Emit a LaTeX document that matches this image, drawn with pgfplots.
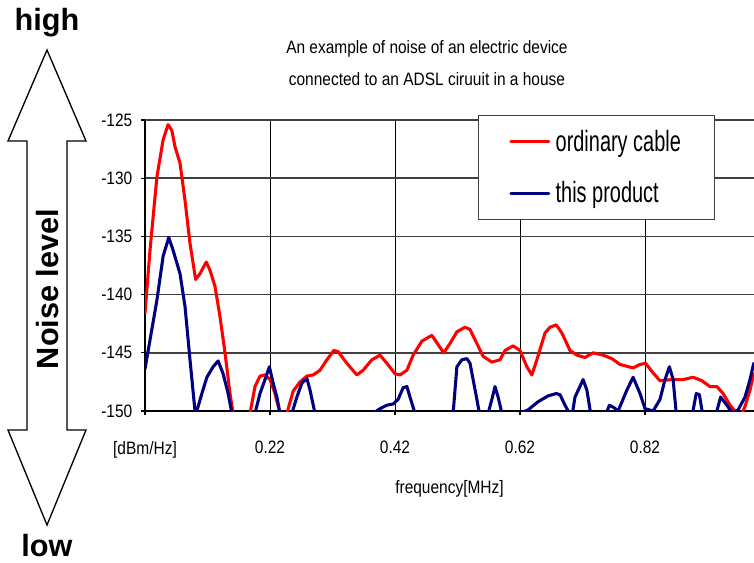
\documentclass[border=0pt]{standalone}
\usepackage{fontspec}
\setmainfont{Liberation Sans}
\newfontfamily\narrowfont[FakeStretch=0.86]{Liberation Sans}
\newfontfamily\legfont[FakeStretch=0.68]{Liberation Sans}
\usepackage{pgfplots}
\pgfplotsset{compat=1.18}
\definecolor{navyline}{RGB}{0,0,128}
\begin{document}
\begin{tikzpicture}
\path[use as bounding box] (0,0) rectangle (565.5pt,421.5pt);
\begin{scope}[x=0.75pt,y=-0.75pt,yshift=421.5pt]
\draw[line width=1pt,line join=miter,fill=white]
  (47,50) -- (86,141) -- (67,141) -- (67,430) -- (86,430) -- (47,525)
  -- (8,430) -- (27,430) -- (27,141) -- (8,141) -- cycle;
\node[anchor=base,inner sep=0pt,font=\bfseries\fontsize{23}{23}\selectfont] at (47,31) {high};
\node[anchor=base,inner sep=0pt,font=\bfseries\fontsize{23}{23}\selectfont] at (47,556) {low};
\node[rotate=90,inner sep=0pt,font=\bfseries\fontsize{23}{23}\selectfont] at (48,289) {Noise level};
\end{scope}
\begin{axis}[
  at={(108.75pt,113.25pt)}, anchor=south west,
  scale only axis, width=456.75pt, height=218.25pt,
  xmin=0.02, xmax=0.9944, ymin=-150, ymax=-125,
  axis lines*=left,
  axis line style={black, line width=0.9pt},
  xtick={0.02,0.22,0.42,0.62,0.82},
  xticklabels={[dBm/Hz],0.22,0.42,0.62,0.82},
  ytick={-150,-145,-140,-135,-130,-125},
  yticklabels={-150,-145,-140,-135,-130,-125},
  /pgf/number format/assume math mode=true,
  tick align=outside, major tick length=3pt,
  tick style={black, line width=0.8pt},
  xmajorgrids, ymajorgrids,
  x grid style={black, line width=0.7pt},
  y grid style={black!75, line width=1.1pt},
  ticklabel style={font=\narrowfont\fontsize{13.5}{13.5}\selectfont},
  xticklabel style={yshift=-16pt},
  yticklabel style={xshift=-3pt},
  xlabel={frequency[MHz]},
  xlabel style={at={(axis description cs:0.5,0)}, anchor=center, yshift=-58.5pt,
    font=\narrowfont\fontsize{13.5}{13.5}\selectfont},
  title={An example of noise of an electric device\\connected to an ADSL ciruuit in a house},
  title style={at={(axis description cs:0.463,1)}, anchor=center, yshift=36.5pt,
    align=center, font=\narrowfont\fontsize{13.5}{24}\selectfont},
  legend style={at={(axis description cs:0.5468,1.0172)}, anchor=north west,
    draw=black!75, line width=0.9pt, fill=white,
    inner xsep=23pt, inner ysep=9pt, row sep=17pt,
    font=\legfont\fontsize{22}{22}\selectfont,
    /tikz/every odd column/.append style={column sep=2pt}},
  legend cell align=left,
  legend image code/.code={\draw[#1] (0pt,0pt) -- (28.5pt,0pt);},
  every axis plot/.append style={line width=2.3pt, line join=round, line cap=round},
]
\addplot[color=red] coordinates {
(0.020,-141.6) (0.028,-136.2) (0.039,-129.9) (0.049,-126.7) (0.057,-125.4)
(0.063,-125.9) (0.068,-127.3) (0.076,-128.7) (0.084,-131.9) (0.092,-135.6)
(0.101,-138.7) (0.108,-138.2) (0.118,-137.2) (0.124,-137.9) (0.132,-139.3)
(0.140,-141.9) (0.148,-145.0) (0.156,-148.5) (0.161,-150.2) (0.175,-153.0)
(0.188,-150.2) (0.196,-147.9) (0.204,-147.0) (0.212,-146.9) (0.220,-147.3)
(0.228,-148.5) (0.236,-150.2) (0.241,-151.5) (0.247,-150.2) (0.257,-148.3)
(0.268,-147.5) (0.279,-147.0) (0.289,-146.9) (0.300,-146.5) (0.311,-145.6)
(0.322,-144.8) (0.329,-144.9) (0.343,-145.9) (0.359,-146.9) (0.369,-146.5)
(0.383,-145.6) (0.396,-145.2) (0.407,-145.9) (0.420,-146.8) (0.428,-146.9)
(0.439,-146.5) (0.449,-145.2) (0.463,-144.0) (0.479,-143.5) (0.489,-144.3)
(0.498,-145.0) (0.508,-144.2) (0.519,-143.2) (0.532,-142.8) (0.540,-143.0)
(0.551,-144.2) (0.561,-145.3) (0.575,-145.8) (0.588,-145.6) (0.596,-144.8)
(0.609,-144.4) (0.620,-144.8) (0.631,-146.2) (0.639,-146.9) (0.647,-145.6)
(0.660,-143.3) (0.668,-142.8) (0.678,-142.6) (0.687,-143.3) (0.700,-144.8)
(0.711,-145.2) (0.724,-145.4) (0.737,-145.0) (0.753,-145.2) (0.767,-145.5)
(0.780,-146.0) (0.801,-146.3) (0.812,-146.0) (0.821,-145.9) (0.831,-146.6)
(0.844,-147.4) (0.863,-147.3) (0.881,-147.3) (0.897,-147.1) (0.911,-147.4)
(0.924,-147.9) (0.935,-147.9) (0.945,-148.5) (0.956,-149.5) (0.964,-150.0)
(0.972,-150.6) (0.980,-149.6) (0.988,-148.2) (0.994,-146.8)
};
\addlegendentry{ordinary cable}
\addplot[color=navyline] coordinates {
(0.020,-146.4) (0.028,-143.9) (0.039,-140.5) (0.049,-136.7) (0.058,-135.1)
(0.065,-136.2) (0.076,-138.2) (0.084,-141.0) (0.092,-145.6) (0.100,-150.0)
(0.104,-149.8) (0.111,-148.5) (0.119,-147.1) (0.129,-146.2) (0.137,-145.7)
(0.145,-146.8) (0.153,-148.5) (0.159,-150.2) (0.178,-154.0) (0.196,-150.2)
(0.204,-148.5) (0.212,-147.3) (0.219,-146.2) (0.225,-147.6) (0.231,-148.8)
(0.236,-150.2) (0.245,-152.0) (0.255,-150.2) (0.263,-148.8) (0.271,-147.6)
(0.279,-147.2) (0.284,-148.2) (0.292,-150.2) (0.300,-152.0) (0.375,-152.0)
(0.385,-150.2) (0.396,-149.8) (0.407,-149.5) (0.417,-149.4) (0.425,-149.0)
(0.433,-148.0) (0.439,-147.9) (0.444,-148.8) (0.452,-150.2) (0.460,-152.0)
(0.505,-152.0) (0.513,-150.2) (0.519,-146.2) (0.527,-145.6) (0.535,-145.5)
(0.540,-145.9) (0.545,-147.3) (0.551,-149.0) (0.555,-150.2) (0.562,-151.5)
(0.569,-150.2) (0.575,-149.0) (0.580,-147.9) (0.585,-148.8) (0.591,-150.2)
(0.600,-152.0) (0.612,-152.0) (0.620,-150.2) (0.633,-149.9) (0.649,-149.2)
(0.665,-148.7) (0.678,-148.5) (0.684,-148.6) (0.692,-149.5) (0.699,-150.2)
(0.703,-150.5) (0.708,-148.8) (0.721,-147.3) (0.727,-148.2) (0.733,-150.2)
(0.745,-152.0) (0.758,-150.2) (0.763,-149.5) (0.770,-149.7) (0.777,-150.0)
(0.791,-148.2) (0.801,-147.1) (0.812,-148.5) (0.820,-149.8) (0.833,-150.0)
(0.844,-149.0) (0.852,-147.3) (0.859,-146.2) (0.865,-147.3) (0.870,-150.2)
(0.883,-152.0) (0.896,-150.2) (0.902,-148.5) (0.907,-148.6) (0.912,-150.2)
(0.923,-152.0) (0.934,-150.2) (0.941,-148.8) (0.951,-149.5) (0.960,-150.2)
(0.969,-149.9) (0.980,-148.8) (0.988,-147.3) (0.994,-145.9)
};
\addlegendentry{this product}
\end{axis}
\end{tikzpicture}
\end{document}
